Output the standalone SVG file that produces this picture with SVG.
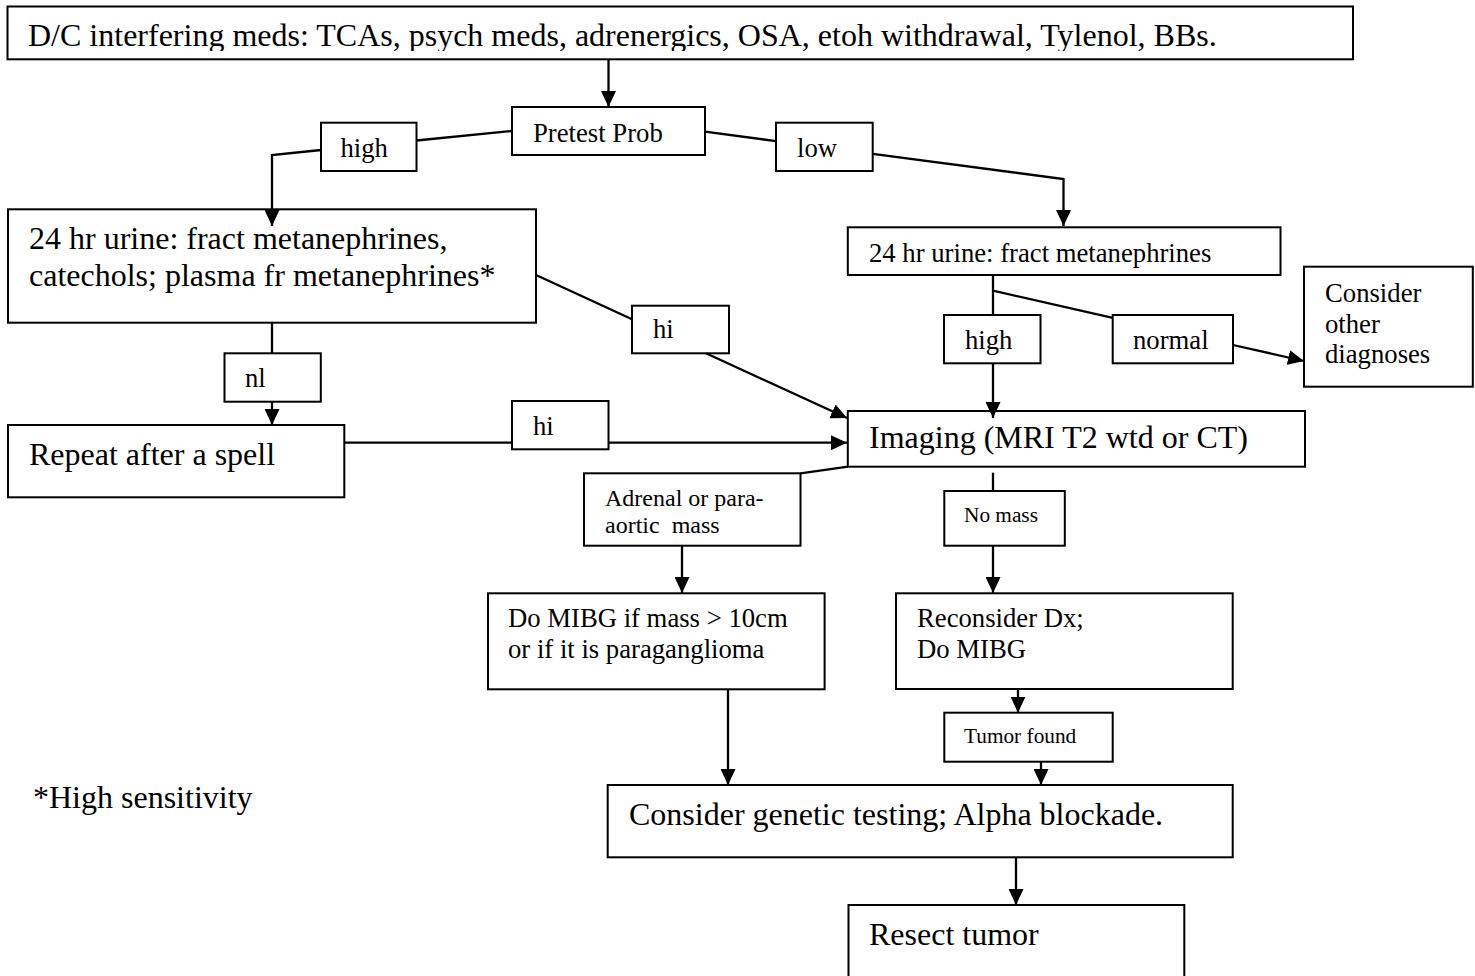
<svg xmlns="http://www.w3.org/2000/svg" width="1475" height="976" viewBox="0 0 1475 976">
<defs>
<style>
.box{fill:#fff;stroke:#000;stroke-width:2}
.ln{fill:none;stroke:#000;stroke-width:2.3}
.arr{marker-end:url(#ah)}
.t{font-family:"Liberation Serif","Times New Roman",serif;fill:#000}
.f32{font-size:32px}
.f27{font-size:26.7px}
.f24{font-size:24px}
.f21{font-size:21.3px}
</style>
<marker id="ah" markerUnits="userSpaceOnUse" markerWidth="16" markerHeight="15" viewBox="0 0 16 15" refX="16" refY="7.5" orient="auto"><path d="M0,0 L16,7.5 L0,15 z" fill="#000"/></marker>
<clipPath id="topclip"><rect x="8" y="8" width="1344" height="43"/></clipPath>
</defs>
<rect x="0" y="0" width="1475" height="976" fill="#fff"/>

<g id="n-top"><rect class="box" x="7.5" y="6.5" width="1345.5" height="52.8"/><text class="t f32" x="28" y="46" clip-path="url(#topclip)">D/C interfering meds: TCAs, psych meds, adrenergics, OSA, etoh withdrawal, Tylenol, BBs.</text></g>
<g id="n-pretest"><rect class="box" x="512" y="107" width="193" height="48"/><text class="t f27" x="533" y="142">Pretest Prob</text></g>
<g id="l-high"><rect class="box" x="321" y="122.7" width="95.5" height="48.3"/><text class="t f27" x="340.5" y="157">high</text></g>
<g id="l-low"><rect class="box" x="776" y="122.7" width="96.7" height="48.3"/><text class="t f27" x="797" y="157">low</text></g>
<g id="n-urine-full"><rect class="box" x="8" y="209.3" width="528" height="113.4"/><text class="t f32" x="29" y="249">24 hr urine: fract metanephrines,</text><text class="t f32" x="29" y="286">catechols; plasma fr metanephrines*</text></g>
<g id="l-hi1"><rect class="box" x="632" y="305.7" width="97" height="47.6"/><text class="t f27" x="653" y="338">hi</text></g>
<g id="l-nl"><rect class="box" x="224.5" y="353.3" width="96.3" height="48.4"/><text class="t f27" x="245" y="387">nl</text></g>
<g id="n-repeat"><rect class="box" x="8" y="425" width="336.3" height="72.3"/><text class="t f32" x="29" y="465">Repeat after a spell</text></g>
<g id="l-hi2"><rect class="box" x="512" y="401" width="96.5" height="48.3"/><text class="t f27" x="533" y="435">hi</text></g>
<g id="n-urine-fract"><rect class="box" x="847.8" y="227.3" width="432.7" height="47.7"/><text class="t f27" x="869" y="262">24 hr urine: fract metanephrines</text></g>
<g id="l-high2"><rect class="box" x="944" y="315" width="96.5" height="48.3"/><text class="t f27" x="965" y="349">high</text></g>
<g id="l-normal"><rect class="box" x="1112.7" y="315" width="120.3" height="48.3"/><text class="t f27" x="1133" y="349">normal</text></g>
<g id="n-other"><rect class="box" x="1304" y="266.7" width="168.8" height="120"/><text class="t f27" x="1325" y="302">Consider</text><text class="t f27" x="1325" y="333">other</text><text class="t f27" x="1325" y="363">diagnoses</text></g>
<g id="n-imaging"><rect class="box" x="847.8" y="411" width="457.2" height="55.7"/><text class="t f32" x="869" y="448">Imaging (MRI T2 wtd or CT)</text></g>
<g id="l-adrenal"><rect class="box" x="584" y="473.3" width="216.5" height="72.4"/><text class="t f24" x="605" y="506">Adrenal or para-</text><text class="t f24" x="605" y="533" xml:space="preserve">aortic  mass</text></g>
<g id="l-nomass"><rect class="box" x="944.3" y="491" width="120.5" height="54.7"/><text class="t f21" x="964" y="522">No mass</text></g>
<g id="n-mibg"><rect class="box" x="488" y="593.3" width="336.6" height="96"/><text class="t f27" x="508" y="627">Do MIBG if mass &gt; 10cm</text><text class="t f27" x="508" y="658">or if it is paraganglioma</text></g>
<g id="n-reconsider"><rect class="box" x="896" y="593.3" width="336.7" height="95.7"/><text class="t f27" x="917" y="627">Reconsider Dx;</text><text class="t f27" x="917" y="658">Do MIBG</text></g>
<g id="l-tumor"><rect class="box" x="944.3" y="712.7" width="168.4" height="49"/><text class="t f21" x="964" y="743">Tumor found</text></g>
<g id="n-genetic"><rect class="box" x="607.7" y="785" width="625" height="72.3"/><text class="t f32" x="629" y="825">Consider genetic testing; Alpha blockade.</text></g>
<g id="n-resect"><rect class="box" x="848.5" y="905" width="335.8" height="90"/><text class="t f32" x="869" y="945">Resect tumor</text></g>
<g id="n-footnote"><text class="t f32" x="33" y="808">*High sensitivity</text></g>

<g id="connectors">
<path class="ln arr" d="M608.5,59 V107"/>
<path class="ln" d="M512,131 L416.5,140.5"/>
<path class="ln arr" d="M321,150 L272,155 V226"/>
<path class="ln" d="M705,131.7 L776,141.1"/>
<path class="ln arr" d="M872.7,153.9 L1063.5,179 V226"/>
<path class="ln" d="M536,275 L632,319.2"/>
<path class="ln arr" d="M706,353.3 L847,418"/>
<path class="ln" d="M272,322.7 V353.3"/>
<path class="ln arr" d="M272,401.7 V425"/>
<path class="ln" d="M344.3,442.7 H512"/>
<path class="ln arr" d="M608.5,442.7 H847"/>
<path class="ln" d="M993,275 V315"/>
<path class="ln arr" d="M993,363.3 V418"/>
<path class="ln" d="M993,290.7 L1112.7,317.8"/>
<path class="ln arr" d="M1233,345 L1304,361"/>
<path class="ln" d="M848,466.7 L800.5,473.3"/>
<path class="ln" d="M993,472.7 V491"/>
<path class="ln arr" d="M682,545.7 V593"/>
<path class="ln arr" d="M993,545.7 V593"/>
<path class="ln arr" d="M728,689.3 V785"/>
<path class="ln arr" d="M1018,689 V712.7"/>
<path class="ln arr" d="M1041,761.7 V785"/>
<path class="ln arr" d="M1016,857.3 V905"/>
</g>
</svg>
